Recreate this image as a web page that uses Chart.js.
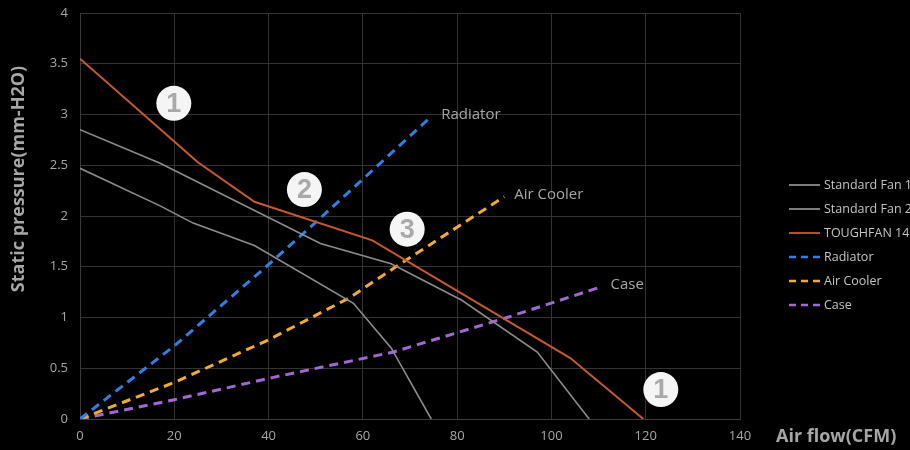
<!DOCTYPE html>
<html>
<head>
<meta charset="utf-8">
<script src="https://cdn.jsdelivr.net/npm/chart.js@4/dist/chart.umd.min.js"></script>
<style>
html,body{margin:0;padding:0;background:#000;overflow:hidden;}
#wrap{width:910px;height:450px;position:relative;}
</style>
</head>
<body>
<div id="wrap"><canvas id="c" width="910" height="450"></canvas></div>
<script>
// ---- data ----
const seriesNames = ['Standard Fan 1', 'Standard Fan 2', 'TOUGHFAN 14', 'Radiator', 'Air Cooler', 'Case'];

const fan1Flow = [0, 17, 51, 66, 81, 97, 108];
const fan1Pressure = [2.85, 2.52, 1.73, 1.53, 1.17, 0.66, 0];

const fan2Flow = [0, 17, 24, 37, 58, 66, 74.5];
const fan2Pressure = [2.47, 2.1, 1.93, 1.71, 1.14, 0.7, 0];

const toughFlow = [0, 25, 37, 62, 104, 119.5];
const toughPressure = [3.55, 2.53, 2.14, 1.76, 0.6, 0];

const radiatorFlow = [0, 20, 38, 51, 74.5];
const radiatorPressure = [0, 0.72, 1.44, 1.98, 2.98];

const coolerFlow = [0, 20, 40, 57, 67, 90];
const coolerPressure = [0, 0.36, 0.78, 1.19, 1.5, 2.19];

const caseFlow = [0, 20, 41, 66.5, 90.6, 110.4];
const casePressure = [0, 0.19, 0.41, 0.66, 1.0, 1.3];

const xTicksMin = 0, xTicksMax = 140, xStep = 20;
const yTicksMin = 0, yTicksMax = 4, yStep = 0.5;

const markerLabels = ['1', '2', '3', '1'];
const markerFlow = [19.9, 47.6, 69.4, 123.2];
const markerPressure = [3.11, 2.26, 1.87, 0.29];

const xTitle = 'Air flow(CFM)';
const yTitle = 'Static pressure(mm-H2O)';

// ---- build ----
function pts(xs, ys) { return xs.map((x, i) => ({ x: x, y: ys[i] })); }

const FONT = '"Open Sans", "DejaVu Sans", sans-serif';
const TXT = '#a6a6a6';

const datasets = [
  { label: seriesNames[0], data: pts(fan1Flow, fan1Pressure), borderColor: '#8c8c8c', borderWidth: 1.6, endLabel: false },
  { label: seriesNames[1], data: pts(fan2Flow, fan2Pressure), borderColor: '#8c8c8c', borderWidth: 1.6, endLabel: false },
  { label: seriesNames[2], data: pts(toughFlow, toughPressure), borderColor: '#c9582c', borderWidth: 2, endLabel: false },
  { label: seriesNames[3], data: pts(radiatorFlow, radiatorPressure), borderColor: '#2f80e6', borderWidth: 3, borderDash: [9, 6], endLabel: true },
  { label: seriesNames[4], data: pts(coolerFlow, coolerPressure), borderColor: '#f2aa32', borderWidth: 3, borderDash: [9, 6], endLabel: true },
  { label: seriesNames[5], data: pts(caseFlow, casePressure), borderColor: '#a466d4', borderWidth: 3, borderDash: [9, 6], endLabel: true }
].map(d => Object.assign({ showLine: true, pointRadius: 0, tension: 0, fill: false, backgroundColor: d.borderColor }, d));

const overlay = {
  id: 'overlay',
  afterDatasetsDraw(chart) {
    const ctx = chart.ctx;
    const xs = chart.scales.x, ys = chart.scales.y;
    ctx.save();
    ctx.font = '15px ' + FONT;
    ctx.fillStyle = TXT;
    ctx.textAlign = 'left';
    ctx.textBaseline = 'middle';
    chart.data.datasets.forEach(ds => {
      if (!ds.endLabel) return;
      const last = ds.data[ds.data.length - 1];
      ctx.fillText(ds.label, xs.getPixelForValue(last.x) + 10, ys.getPixelForValue(last.y) - 2);
    });
    markerLabels.forEach((t, i) => {
      const px = xs.getPixelForValue(markerFlow[i]);
      const py = ys.getPixelForValue(markerPressure[i]);
      ctx.beginPath();
      ctx.arc(px, py, 17.5, 0, Math.PI * 2);
      ctx.fillStyle = '#f5f5f5';
      ctx.fill();
      ctx.fillStyle = '#a9a9a9';
      ctx.font = 'bold 27px "Liberation Sans", Arial, sans-serif';
      ctx.textAlign = 'center';
      ctx.textBaseline = 'middle';
      ctx.fillText(t, px, py + 1);
    });
    ctx.restore();
  },
  afterDraw(chart) {
    const ctx = chart.ctx;
    ctx.save();
    ctx.fillStyle = TXT;
    ctx.font = 'bold 18px ' + FONT;
    ctx.textBaseline = 'middle';
    ctx.textAlign = 'left';
    ctx.fillText(xTitle, 776, 437);
    ctx.translate(19, 179);
    ctx.rotate(-Math.PI / 2);
    ctx.textAlign = 'center';
    ctx.fillText(yTitle, 0, 0);
    ctx.restore();
    ctx.save();
    ctx.font = '12.5px ' + FONT;
    ctx.textAlign = 'left';
    ctx.textBaseline = 'middle';
    chart.data.datasets.forEach((ds, i) => {
      const y = 185 + i * 24;
      ctx.beginPath();
      ctx.strokeStyle = ds.borderColor;
      ctx.lineWidth = ds.borderDash ? 2.5 : 1.8;
      ctx.setLineDash(ds.borderDash ? [7, 5] : []);
      ctx.moveTo(789, y);
      ctx.lineTo(820, y);
      ctx.stroke();
      ctx.setLineDash([]);
      ctx.fillStyle = '#c4c4c4';
      ctx.fillText(ds.label, 824, y);
    });
    ctx.restore();
  }
};

new Chart(document.getElementById('c'), {
  type: 'scatter',
  data: { datasets: datasets },
  options: {
    responsive: false,
    animation: false,
    devicePixelRatio: 1,
    layout: { padding: { left: 0, right: 170, top: 13, bottom: 0 } },
    plugins: { legend: { display: false }, tooltip: { enabled: false } },
    scales: {
      x: {
        type: 'linear', min: xTicksMin, max: xTicksMax,
        ticks: { stepSize: xStep, color: TXT, font: { family: FONT, size: 13 }, padding: 9, maxRotation: 0 },
        grid: { color: '#333333', drawTicks: false, lineWidth: 1 },
        border: { color: '#3a3a3a' },
        afterFit(s) { s.height = 31; s.paddingLeft = 0; s.paddingRight = 0; }
      },
      y: {
        type: 'linear', min: yTicksMin, max: yTicksMax,
        ticks: { stepSize: yStep, color: TXT, font: { family: FONT, size: 13 }, padding: 12,
                 callback: v => String(Math.round(v * 10) / 10) },
        grid: { color: '#333333', drawTicks: false, lineWidth: 1 },
        border: { color: '#3a3a3a' },
        afterFit(s) { s.width = 80; s.paddingTop = 0; s.paddingBottom = 0; }
      }
    }
  },
  plugins: [overlay]
});
</script>
</body>
</html>
